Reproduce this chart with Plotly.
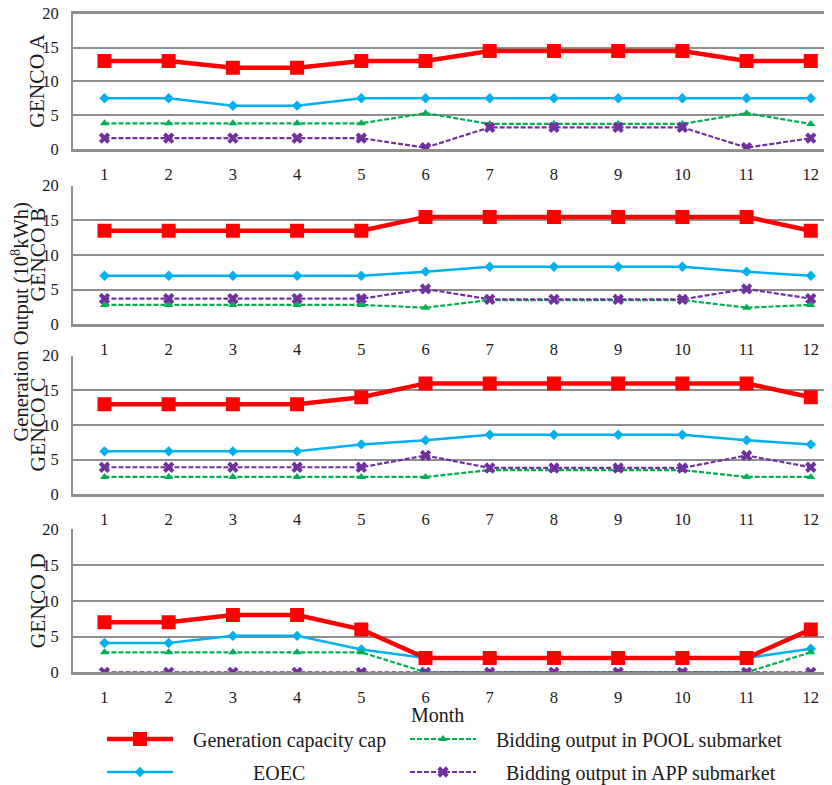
import plotly.graph_objects as go

months = [1, 2, 3, 4, 5, 6, 7, 8, 9, 10, 11, 12]
panel_labels = ["GENCO A", "GENCO B", "GENCO C", "GENCO D"]

cap_A = [13, 13, 12, 12, 13, 13, 14.5, 14.5, 14.5, 14.5, 13, 13]
eoec_A = [7.5, 7.5, 6.4, 6.4, 7.5, 7.5, 7.5, 7.5, 7.5, 7.5, 7.5, 7.5]
pool_A = [3.8, 3.8, 3.8, 3.8, 3.8, 5.3, 3.7, 3.7, 3.7, 3.7, 5.3, 3.7]
app_A = [1.6, 1.6, 1.6, 1.6, 1.6, 0.2, 3.2, 3.2, 3.2, 3.2, 0.2, 1.6]

cap_B = [13.5, 13.5, 13.5, 13.5, 13.5, 15.5, 15.5, 15.5, 15.5, 15.5, 15.5, 13.5]
eoec_B = [7.0, 7.0, 7.0, 7.0, 7.0, 7.6, 8.3, 8.3, 8.3, 8.3, 7.6, 7.0]
pool_B = [2.8, 2.8, 2.8, 2.8, 2.8, 2.4, 3.5, 3.5, 3.5, 3.5, 2.4, 2.8]
app_B = [3.7, 3.7, 3.7, 3.7, 3.7, 5.1, 3.6, 3.6, 3.6, 3.6, 5.1, 3.7]

cap_C = [13, 13, 13, 13, 14, 16, 16, 16, 16, 16, 16, 14]
eoec_C = [6.2, 6.2, 6.2, 6.2, 7.2, 7.8, 8.6, 8.6, 8.6, 8.6, 7.8, 7.2]
pool_C = [2.5, 2.5, 2.5, 2.5, 2.5, 2.5, 3.5, 3.5, 3.5, 3.5, 2.5, 2.5]
app_C = [3.9, 3.9, 3.9, 3.9, 3.9, 5.6, 3.8, 3.8, 3.8, 3.8, 5.6, 3.9]

cap_D = [7, 7, 8, 8, 6, 2, 2, 2, 2, 2, 2, 6]
eoec_D = [4.1, 4.1, 5.1, 5.1, 3.2, 2.0, 2.0, 2.0, 2.0, 2.0, 2.0, 3.3]
pool_D = [2.8, 2.8, 2.8, 2.8, 2.8, 0, 0, 0, 0, 0, 0, 2.8]
app_D = [0, 0, 0, 0, 0, 0, 0, 0, 0, 0, 0, 0]

series_names = ["Generation capacity cap", "EOEC",
                "Bidding output in POOL submarket", "Bidding output in APP submarket"]

panels = [
    (cap_A, eoec_A, pool_A, app_A),
    (cap_B, eoec_B, pool_B, app_B),
    (cap_C, eoec_C, pool_C, app_C),
    (cap_D, eoec_D, pool_D, app_D),
]

# the page body has an 8px margin: the figure is drawn from (8, 8)
OFF = 8
W, H = 832 - OFF, 785 - OFF


def fx(px):
    return (px - OFF) / W


def fy(py):
    return 1 - (py - OFF) / H


FONT = "Liberation Serif"
TXT = "#1a1a1a"
GRID = "#8f8f8f"
NB = "\u00a0"

# screen geometry of the panels (top at 20, bottom at 0)
panel_px = [(13.7, 149.0), (185.7, 324.3), (355.7, 494.3), (529.3, 672.3)]
x_left_px = 73

RED, BLUE, GREEN, PURPLE = "#FF0000", "#00B0F0", "#00B050", "#7030A0"

legend_text = {
    "cap": NB * 3 + series_names[0],
    "eoec": NB * 15 + series_names[1],
    "pool": NB * 3 + series_names[2],
    "app": NB * 5 + series_names[3],
}

fig = go.Figure()
layout = {}
for i, (cap, eoec, pool, app) in enumerate(panels):
    xa = "x" if i == 0 else f"x{i+1}"
    ya = "y" if i == 0 else f"y{i+1}"
    first = i == 0
    fig.add_trace(go.Scatter(
        x=months, y=eoec, xaxis=xa, yaxis=ya, mode="lines+markers",
        name=legend_text["eoec"], legend="legend3", showlegend=first,
        line=dict(color=BLUE, width=2.5),
        marker=dict(symbol="diamond", size=8, color=BLUE)))
    fig.add_trace(go.Scatter(
        x=months, y=pool, xaxis=xa, yaxis=ya, mode="lines+markers",
        name=legend_text["pool"], legend="legend2", showlegend=first,
        line=dict(color=GREEN, width=2.2, dash="5px,2px"),
        marker=dict(symbol="triangle-up", size=8, color=GREEN)))
    fig.add_trace(go.Scatter(
        x=months, y=app, xaxis=xa, yaxis=ya, mode="lines+markers",
        name=legend_text["app"], legend="legend4", showlegend=first,
        line=dict(color=PURPLE, width=2.2, dash="5px,2px"),
        marker=dict(symbol="x", size=10, color=PURPLE)))
    fig.add_trace(go.Scatter(
        x=months, y=cap, xaxis=xa, yaxis=ya, mode="lines+markers",
        name=legend_text["cap"], legend="legend", showlegend=first,
        line=dict(color=RED, width=4.5),
        marker=dict(symbol="square", size=14, color=RED)))

    top, bot = panel_px[i]
    xkey = "xaxis" if i == 0 else f"xaxis{i+1}"
    ykey = "yaxis" if i == 0 else f"yaxis{i+1}"
    layout[xkey] = dict(
        domain=[fx(x_left_px), 1.0], anchor=ya, range=[0.51, 12.33],
        tickmode="array", tickvals=months, ticktext=[str(m) for m in months],
        showgrid=False, zeroline=False, showline=True, linecolor=GRID, linewidth=2.5,
        mirror=first,
        ticks="", ticklabelstandoff=8, automargin=False, ticklabeloverflow="allow",
        tickfont=dict(family=FONT, size=16.5, color=TXT))
    layout[ykey] = dict(
        domain=[fy(bot), fy(top)], anchor=xa, range=[0, 20],
        tickmode="array", tickvals=[0, 5, 10, 15, 20],
        showgrid=True, gridcolor=GRID, gridwidth=2, zeroline=False,
        showline=True, linecolor=GRID, linewidth=2, ticks="",
        ticklabelstandoff=9, automargin=False, ticklabeloverflow="allow",
        tickfont=dict(family=FONT, size=16.5, color=TXT))

annotations = []
for i, lab in enumerate(panel_labels):
    top, bot = panel_px[i]
    annotations.append(dict(
        text=lab, xref="paper", yref="paper", x=fx(37.5), y=fy((top + bot) / 2),
        xanchor="center", yanchor="middle", textangle=-90, showarrow=False,
        font=dict(family=FONT, size=21.5, color=TXT)))
annotations.append(dict(
    text="Generation Output (10<sup>8</sup>kWh)", xref="paper", yref="paper",
    x=fx(20.5), y=fy(322), xanchor="center", yanchor="middle", textangle=-90,
    showarrow=False, font=dict(family=FONT, size=20.5, color=TXT)))
annotations.append(dict(
    text="Month", xref="paper", yref="paper", x=fx(437), y=fy(715),
    xanchor="center", yanchor="middle", showarrow=False,
    font=dict(family=FONT, size=20, color=TXT)))

leg_common = dict(xanchor="left", yanchor="middle", itemwidth=66,
                  bgcolor="rgba(0,0,0,0)", borderwidth=0,
                  font=dict(family=FONT, size=20, color=TXT))
layout["legend"] = dict(x=fx(102), y=fy(739), **leg_common)
layout["legend2"] = dict(x=fx(405), y=fy(739), **leg_common)
layout["legend3"] = dict(x=fx(102), y=fy(772), **leg_common)
layout["legend4"] = dict(x=fx(405), y=fy(772), **leg_common)

fig.update_layout(
    width=W, height=H, margin=dict(l=0, r=0, t=0, b=0, autoexpand=False),
    paper_bgcolor="white", plot_bgcolor="white",
    annotations=annotations, **layout)

fig.write_html("out.html")
